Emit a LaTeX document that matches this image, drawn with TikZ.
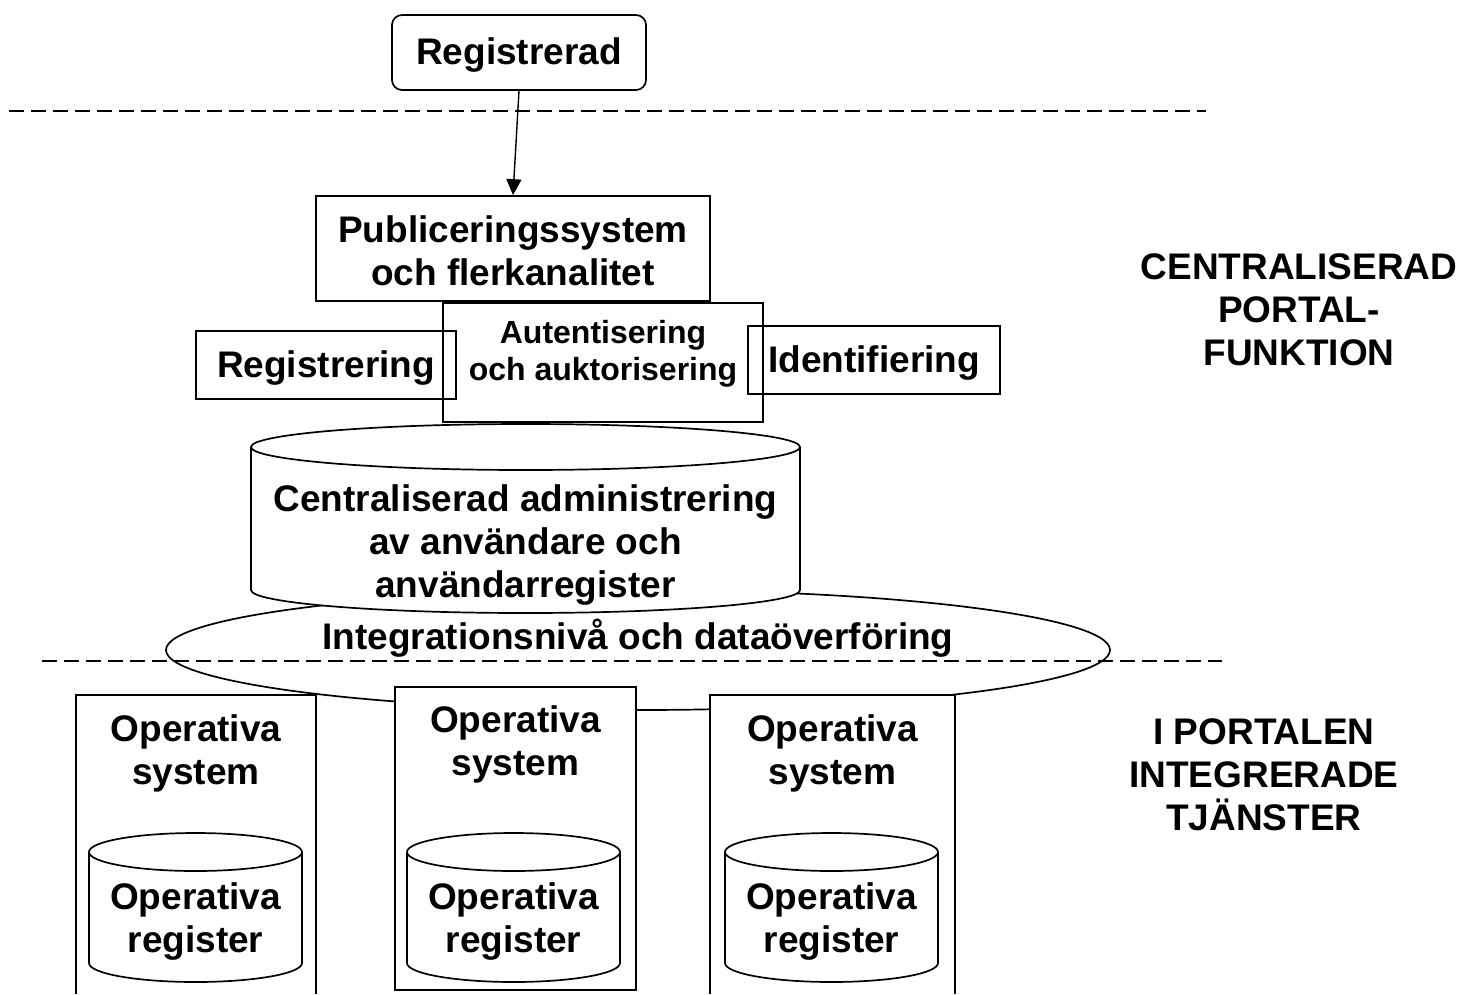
\documentclass[tikz,border=0pt]{standalone}
\usepackage{fontspec}
\setmainfont{Liberation Sans}
\usetikzlibrary{arrows.meta,shapes.geometric}
\tikzset{
  lbl/.style={font=\bfseries\fontsize{37}{43}\selectfont, align=center, inner sep=0pt},
  smalllbl/.style={font=\bfseries\fontsize{32}{37}\selectfont, align=center, inner sep=0pt},
  boxnode/.style={draw, line width=1.7pt, inner sep=0pt},
  outline/.style={line width=1.7pt},
  divider/.style={line width=2pt, dash pattern=on 15pt off 7pt},
}
\begin{document}
\begin{tikzpicture}[x=1pt,y=1pt]
\useasboundingbox (0,0) rectangle (1464,-994);

% integration ellipse
\node[shape=ellipse, boxnode, fill=white, minimum width=944pt, minimum height=120pt] (integ) at (638,-650) {};
\node[lbl] (integtext) at (638,-638) {Integrationsnivå och dataöverföring};

% central cylinder
\filldraw[outline, fill=white] (251,-447) -- (251,-590)
  arc[start angle=180, end angle=360, x radius=274.5, y radius=23] -- (800,-447)
  arc[start angle=0, end angle=180, x radius=274.5, y radius=23] -- cycle;
\draw[outline] (251,-447) arc[start angle=180, end angle=360, x radius=274.5, y radius=23];
\node[lbl] (admtext) at (525.5,-545) {Centraliserad administrering\\av användare och\\användarregister};

% top box
\node[boxnode, rounded corners=10pt, minimum width=254pt, minimum height=75pt] (reg) at (519,-52.5) {};
\node[lbl] (regtext) at (519,-55) {Registrerad};

% dividers
\coordinate (d1a) at (9,-110.5);
\coordinate (d1b) at (1206,-110.5);
\draw[divider] (d1a) -- (d1b);
\coordinate (d2a) at (42,-660.5);
\coordinate (d2b) at (1222,-660.5);
\draw[divider] (d2a) -- (d2b);

% portal boxes
\node[boxnode, minimum width=394pt, minimum height=105pt] (pub) at (513,-248.5) {};
\node[lbl] (pubtext) at (513,-251) {Publiceringssystem\\och flerkanalitet};
\node[boxnode, minimum width=320pt, minimum height=119pt] (auth) at (603,-362.5) {};
\node[smalllbl] (authtext) at (603,-354) {Autentisering\\och auktorisering};
\node[boxnode, minimum width=260pt, minimum height=68pt] (regg) at (326,-365) {};
\node[lbl] (reggtext) at (326,-368) {Registrering};
\node[boxnode, minimum width=252pt, minimum height=68pt] (ident) at (874,-360) {};
\node[lbl] (identtext) at (874,-363) {Identifiering};

\draw[line width=1.4pt, -{Triangle[length=16pt,width=15pt]}] (reg.south) -- (pub.north);

% operative systems
\filldraw[outline, fill=white] (76,-994) -- (76,-695) -- (316,-695) -- (316,-994);
\node[boxnode, fill=white, minimum width=241pt, minimum height=303pt] (os2) at (515.5,-838.5) {};
\filldraw[outline, fill=white] (710,-994) -- (710,-695) -- (955,-695) -- (955,-994);

\node[lbl] (os1text) at (196,-753) {Operativa\\system};
\node[lbl] (os2text) at (515.5,-744) {Operativa\\system};
\node[lbl] (os3text) at (832.5,-753) {Operativa\\system};

\foreach \cx/\nm in {195.5/r1, 513.5/r2, 831.5/r3}{
  \filldraw[outline, fill=white] (\cx-106.5,-852) -- (\cx-106.5,-963)
    arc[start angle=180, end angle=360, x radius=106.5, y radius=19] -- (\cx+106.5,-852)
    arc[start angle=0, end angle=180, x radius=106.5, y radius=19] -- cycle;
  \draw[outline] (\cx-106.5,-852) arc[start angle=180, end angle=360, x radius=106.5, y radius=19];
  \node[lbl] (\nm) at (\cx,-921) {Operativa\\register};
}

% side labels
\node[lbl] (lab1) at (1299,-310) {CENTRALISERAD\\PORTAL-\\FUNKTION};
\node[lbl] (lab2) at (1264,-775) {I PORTALEN\\INTEGRERADE\\TJÄNSTER};
\end{tikzpicture}
\end{document}
